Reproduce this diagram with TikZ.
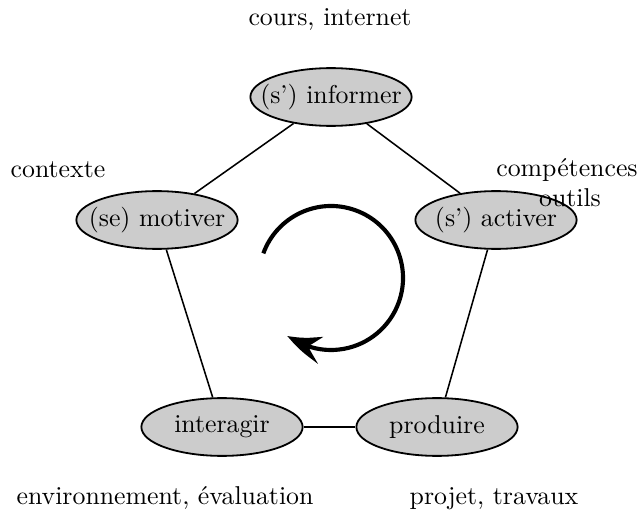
\documentclass[tikz,border=0pt]{standalone}
\usetikzlibrary{shapes.geometric,arrows.meta,bending}
\newcommand{\phasetext}[1]{\makebox[0pt]{#1}}
\begin{document}
\begin{tikzpicture}[x=0.3876pt,y=0.3876pt,
  phase/.style={ellipse,draw=black,line width=0.7pt,fill=black!20,
    minimum width=62.5pt,minimum height=22.4pt,inner sep=0pt},
  link/.style={line width=0.6pt},
  note/.style={anchor=base,inner sep=0pt},
  cycle/.style={line width=1.6pt,-{Stealth[length=14pt,width=10.5pt,inset=5pt,bend]}}]
  \useasboundingbox (0,0) rectangle (638,513);
  % the five phases
  \node[phase] (inf) at (331,416) {\phasetext{(s') informer}};
  \node[phase] (mot) at (157,293) {\phasetext{(se) motiver}};
  \node[phase] (act) at (496,293) {\phasetext{(s') activer}};
  \node[phase] (int) at (222,86)  {\phasetext{interagir}};
  \node[phase] (pro) at (437,86)  {\phasetext{produire}};
  % pentagon links
  \draw[link] (inf) -- (mot);
  \draw[link] (inf) -- (act);
  \draw[link] (mot) -- (int);
  \draw[link] (act) -- (pro);
  \draw[link] (int) -- (pro);
  % resources attached to each phase
  \node[note] (lcours) at (330,488) {cours, internet};
  \node[note] (lctx)   at (58,335)  {contexte};
  \node[note] (lcomp)  at (567,336) {compétences};
  \node[note] (lout)   at (570,307) {outils};
  \node[note] (lenv)   at (165,9)   {environnement, évaluation};
  \node[note] (lproj)  at (494,9)   {projet, travaux};
  % clockwise cycle arrow
  \coordinate (ctr) at (331,235);
  \draw[cycle] (ctr) ++(160:72) arc[start angle=160,end angle=-127,radius=72];
\end{tikzpicture}
\end{document}
